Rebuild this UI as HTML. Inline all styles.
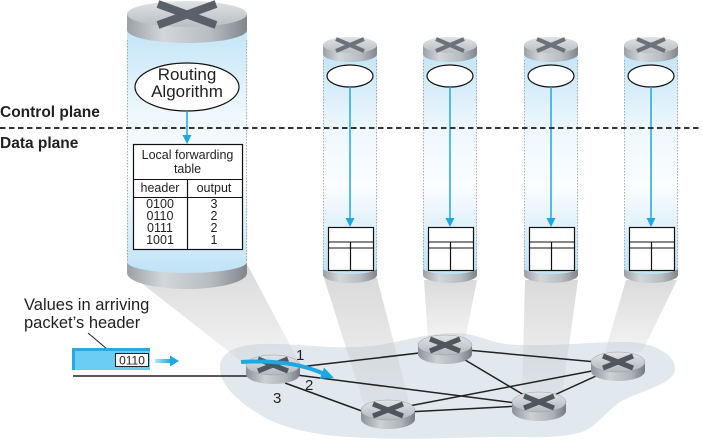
<!DOCTYPE html>
<html><head><meta charset="utf-8"><style>
html,body{margin:0;padding:0;background:#fff;}
svg{display:block;}
text{font-family:"Liberation Sans",Arial,sans-serif;fill:#231f20;}
</style></head><body>
<svg width="702" height="442" viewBox="0 0 702 442" xmlns="http://www.w3.org/2000/svg">
<defs>
<linearGradient id="body" x1="0" y1="0" x2="0" y2="1">
<stop offset="0" stop-color="#c4e5f7"/><stop offset="0.35" stop-color="#eef8fd"/><stop offset="0.6" stop-color="#fbfdff"/><stop offset="1" stop-color="#bfe3f6"/>
</linearGradient>
<linearGradient id="capTop" x1="0" y1="0" x2="0" y2="1">
<stop offset="0" stop-color="#dfe2e5"/><stop offset="1" stop-color="#b9bec2"/>
</linearGradient>
<linearGradient id="band" x1="0" y1="0" x2="1" y2="0">
<stop offset="0" stop-color="#9aa0a5"/><stop offset="0.3" stop-color="#d3d7da"/><stop offset="0.7" stop-color="#b7bcc0"/><stop offset="1" stop-color="#80868c"/>
</linearGradient>
<linearGradient id="beam" x1="0" y1="0" x2="0" y2="1">
<stop offset="0" stop-color="#b8b8b8" stop-opacity="0.52"/><stop offset="1" stop-color="#c4c4c4" stop-opacity="0.2"/>
</linearGradient>
<linearGradient id="rtop" x1="0" y1="0" x2="0" y2="1">
<stop offset="0" stop-color="#e2e5e8"/><stop offset="1" stop-color="#b3b8bd"/>
</linearGradient>
<linearGradient id="rside" x1="0" y1="0" x2="1" y2="0">
<stop offset="0" stop-color="#8d9399"/><stop offset="0.35" stop-color="#cdd1d4"/><stop offset="0.75" stop-color="#aeb3b8"/><stop offset="1" stop-color="#757b81"/>
</linearGradient>
<linearGradient id="pkt" x1="0" y1="0" x2="1" y2="0">
<stop offset="0" stop-color="#b6e6fa"/><stop offset="1" stop-color="#1ea8e2"/>
</linearGradient>
</defs>

<!-- network cloud -->
<path d="M220,365 C222,350 240,345 260,344 C300,343 330,350 370,346 C400,343 420,334 455,333 C480,333 490,345 520,345 C560,346 590,342 625,342 C650,342 674,352 675,368 C676,382 650,388 628,398 C608,406 602,424 582,432 C557,440 520,436 490,437 C450,438 410,440 370,438 C330,437 290,432 262,416 C240,403 218,385 220,365 Z" fill="#e1e9ef"/>

<!-- beams -->
<polygon points="140,282 248,266 298,360 246,365" fill="url(#beam)"/>
<polygon points="324,278 377,278 410,405 365,408" fill="url(#beam)"/>
<polygon points="424,280 477,280 465,340 428,340" fill="url(#beam)"/>
<polygon points="525,280 578,280 562,396 522,396" fill="url(#beam)"/>
<polygon points="626,280 677,280 642,352 605,352" fill="url(#beam)"/>

<!-- big cylinder -->
<path d="M127,262 L127,273 A60,16 0 0 0 247,273 L247,262 Z" fill="url(#band)"/>
<path d="M127,30 L127,262 A60,11 0 0 0 247,262 L247,30 Z" fill="url(#body)"/>
<line x1="127.5" y1="40" x2="127.5" y2="262" stroke="#9a9a9a" stroke-width="0.8" stroke-dasharray="1.5,1.5"/>
<line x1="246.5" y1="40" x2="246.5" y2="262" stroke="#9a9a9a" stroke-width="0.8" stroke-dasharray="1.5,1.5"/>
<path d="M127,14 L127,30 A60,13 0 0 0 247,30 L247,14 Z" fill="url(#band)"/>
<ellipse cx="187" cy="14" rx="60" ry="13" fill="url(#capTop)"/>
<g stroke="#59606a" stroke-width="8">
<line x1="158" y1="4" x2="216" y2="25"/><line x1="216" y1="4" x2="158" y2="25"/>
</g>

<!-- small cylinders -->
<g id="sc">
<path d="M323,268 L323,275 A27,8 0 0 0 377,275 L377,268 Z" fill="url(#band)"/>
<path d="M323,54 L323,268 A27,6 0 0 0 377,268 L377,54 Z" fill="url(#body)"/>
<line x1="323.5" y1="60" x2="323.5" y2="268" stroke="#9a9a9a" stroke-width="0.8" stroke-dasharray="1.5,1.5"/>
<line x1="376.5" y1="60" x2="376.5" y2="268" stroke="#9a9a9a" stroke-width="0.8" stroke-dasharray="1.5,1.5"/>
<path d="M323,45 L323,54 A27,8 0 0 0 377,54 L377,45 Z" fill="url(#band)"/>
<ellipse cx="350" cy="45" rx="27" ry="8" fill="url(#capTop)"/>
<g stroke="#6b727a" stroke-width="4">
<line x1="336" y1="39" x2="364" y2="51"/><line x1="364" y1="39" x2="336" y2="51"/>
</g>
<ellipse cx="350" cy="76" rx="23" ry="11" fill="#fff" stroke="#111" stroke-width="1.2"/>
<line x1="350" y1="87" x2="350" y2="219" stroke="#1ea8e2" stroke-width="1.5"/>
<polygon points="345.5,218 354.5,218 350,227" fill="#1ea8e2"/>
<rect x="328.5" y="227.5" width="45" height="43" fill="#fff" stroke="#111" stroke-width="1.2"/>
<line x1="328" y1="242" x2="373" y2="242" stroke="#111" stroke-width="1"/>
<line x1="328" y1="248" x2="373" y2="248" stroke="#111" stroke-width="1"/>
<line x1="350.5" y1="242" x2="350.5" y2="270" stroke="#111" stroke-width="1.2"/>
</g>
<use href="#sc" transform="translate(100,0)"/>
<use href="#sc" transform="translate(201,0)"/>
<use href="#sc" transform="translate(301,0)"/>

<!-- routing algorithm -->
<ellipse cx="187" cy="87" rx="52" ry="24" fill="#fff" stroke="#111" stroke-width="1.2"/>
<text x="187" y="80" font-size="17" text-anchor="middle">Routing</text>
<text x="187" y="97" font-size="17" text-anchor="middle">Algorithm</text>
<line x1="187" y1="111" x2="187" y2="136" stroke="#1ea8e2" stroke-width="1.5"/>
<polygon points="182.5,135 191.5,135 187,144" fill="#1ea8e2"/>

<!-- dashed plane separator -->
<line x1="0" y1="128" x2="702" y2="128" stroke="#333" stroke-width="2" stroke-dasharray="5.5,3.5"/>
<text x="0" y="117" font-size="15.5" font-weight="bold">Control plane</text>
<text x="0" y="148" font-size="15.5" font-weight="bold">Data plane</text>

<!-- forwarding table -->
<rect x="133.5" y="144.5" width="109" height="105" fill="#fff" stroke="#111" stroke-width="1.2"/>
<line x1="133" y1="179.5" x2="242" y2="179.5" stroke="#111" stroke-width="1"/>
<line x1="133" y1="197.5" x2="242" y2="197.5" stroke="#111" stroke-width="1"/>
<line x1="187.5" y1="179" x2="187.5" y2="250" stroke="#111" stroke-width="1.2"/>
<g font-size="12.5" text-anchor="middle">
<text x="187.5" y="159">Local forwarding</text>
<text x="187.5" y="173">table</text>
<text x="160" y="192">header</text>
<text x="214" y="192">output</text>
<text x="160" y="208">0100</text>
<text x="160" y="220">0110</text>
<text x="160" y="232">0111</text>
<text x="160" y="244">1001</text>
<text x="214" y="208">3</text>
<text x="214" y="220">2</text>
<text x="214" y="232">2</text>
<text x="214" y="244">1</text>
</g>

<!-- links -->
<g stroke="#222" stroke-width="1.5">
<line x1="73" y1="376" x2="255" y2="376"/>
<line x1="273" y1="370" x2="445" y2="350"/>
<line x1="273" y1="372" x2="539" y2="406"/>
<line x1="285" y1="383" x2="370" y2="414"/>
<line x1="445" y1="348" x2="618" y2="364"/>
<line x1="445" y1="348" x2="539" y2="404"/>
<line x1="388" y1="410" x2="618" y2="366"/>
<line x1="388" y1="413" x2="539" y2="405"/>
<line x1="539" y1="402" x2="618" y2="366"/>
</g>

<!-- routers -->
<g id="rt">
<path d="M246,365 L246,374 A27,10 0 0 0 300,374 L300,365 Z" fill="url(#rside)"/>
<ellipse cx="273" cy="365" rx="27" ry="10" fill="url(#rtop)" stroke="#9aa0a5" stroke-width="0.5"/>
<g stroke="#4f565d" stroke-width="5">
<line x1="258" y1="359" x2="288" y2="371"/><line x1="288" y1="359" x2="258" y2="371"/>
</g>
</g>
<use href="#rt" transform="translate(172,-20)"/>
<use href="#rt" transform="translate(345,-3)"/>
<use href="#rt" transform="translate(266,37)"/>
<use href="#rt" transform="translate(115,45)"/>

<!-- blue forwarding arrow -->
<path d="M241,362 Q290,359 322,373" fill="none" stroke="#1ea8e2" stroke-width="4"/>
<polygon points="334,378 319.7,378.8 324.1,367.6" fill="#1ea8e2"/>

<!-- port labels -->
<g font-size="15">
<text x="296" y="360">1</text>
<text x="305" y="390">2</text>
<text x="273" y="403">3</text>
</g>

<!-- packet -->
<text x="24" y="310" font-size="16.5">Values in arriving</text>
<text x="24" y="328" font-size="16.5">packet’s header</text>
<line x1="88" y1="333" x2="107" y2="349" stroke="#222" stroke-width="1"/>
<path d="M75,348 L150,348 L150,370 L75,370 Q72,370 72,367 L72,351 Q72,348 75,348 Z" fill="#6ccdf4"/>
<rect x="72" y="348" width="78" height="3" fill="#2aa9e1"/>
<rect x="72" y="348" width="3" height="22" fill="#2aa9e1"/>
<rect x="115.5" y="353.5" width="33" height="13" fill="#fff" stroke="#222" stroke-width="1"/>
<text x="132" y="364.5" font-size="12" text-anchor="middle">0110</text>
<rect x="155" y="359" width="16" height="4" fill="url(#pkt)"/>
<polygon points="170,355.5 179,361 170,366.5" fill="#1ea8e2"/>
</svg>
</body></html>
